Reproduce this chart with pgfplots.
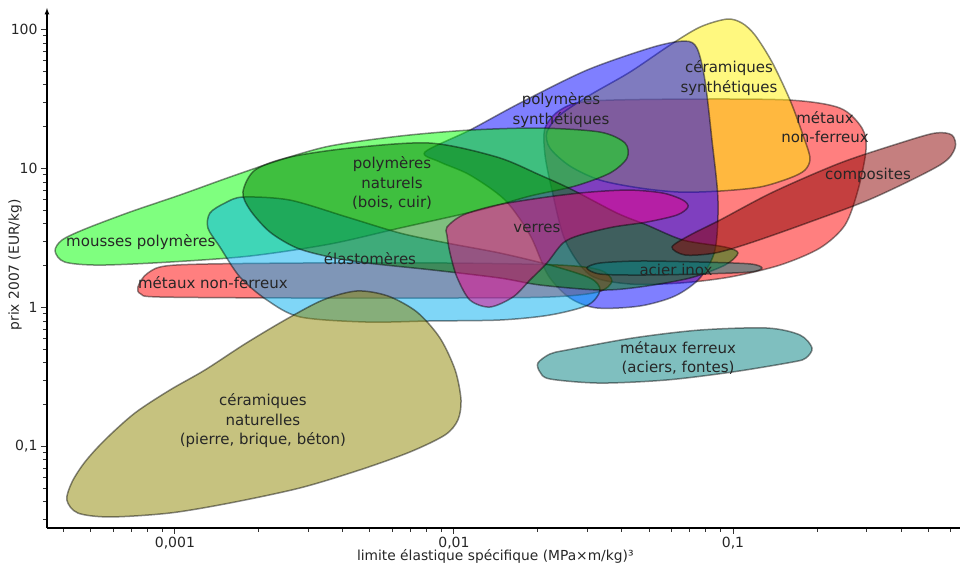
\documentclass[border=0pt]{standalone}
\usepackage{pgfplots}
\pgfplotsset{compat=1.18}
\usepackage{fontspec}
\setmainfont{DejaVu Sans}
\definecolor{pngreen}{RGB}{0,128,0}
\definecolor{cdarkred}{RGB}{139,0,0}
\begin{document}
\begin{tikzpicture}[font=\fontsize{14bp}{17bp}\selectfont]
\useasboundingbox (-47bp,-43bp) rectangle (916bp,528bp);
\begin{axis}[
  scale only axis, width=913bp, height=520bp,
  xmode=log, ymode=log,
  xmin=3.48e-4, xmax=0.651, ymin=0.0259, ymax=143,
  axis x line=bottom, axis y line=left,
  x axis line style={-}, y axis line style={-latex},
  axis line style={line width=1.2bp, black},
  xtick={0.001,0.01,0.1}, xticklabels={{0,001},{0,01},{0,1}},
  ytick={0.1,1,10,100}, yticklabels={{0,1},1,10,100},
  minor xtick={4e-4,5e-4,6e-4,7e-4,8e-4,9e-4,0.002,0.003,0.004,0.005,0.006,0.007,0.008,0.009,0.02,0.03,0.04,0.05,0.06,0.07,0.08,0.09,0.2,0.3,0.4,0.5,0.6},
  minor ytick={0.03,0.04,0.05,0.06,0.07,0.08,0.09,0.2,0.3,0.4,0.5,0.6,0.7,0.8,0.9,2,3,4,5,6,7,8,9,20,30,40,50,60,70,80,90},
  tick align=outside, major tick length=6bp, minor tick length=4bp,
  tick style={black!80, line width=0.9bp},
  tick label style={font=\fontsize{14bp}{17bp}\selectfont, text=black!85},
  xlabel={limite élastique spécifique (MPa×m/kg)³},
  ylabel={prix 2007 (EUR/kg)},
  xlabel style={at={(axis description cs:0.491,-0.054)}, anchor=center, font=\fontsize{13.8bp}{16bp}\selectfont, text=black!85},
  ylabel style={at={(axis description cs:-0.035,0.506)}, anchor=center, font=\fontsize{13.8bp}{16bp}\selectfont, text=black!85},
  clip=false,
  blob/.style={smooth cycle, mark=none, fill opacity=0.5, draw=black, draw opacity=0.45, line width=1.5bp},
]
% metaux non-ferreux (right)
\addplot[blob, fill=red] coordinates {
(0.0212,19.56) (0.02399,26.36) (0.03073,30.59) (0.07015,31.62) (0.1601,31.10) (0.2418,27.25) (0.2900,19.56) (0.2997,13.59) (0.2805,7.00) (0.2520,3.92) (0.2050,2.68) (0.1474,2.02) (0.0975,1.657) (0.06457,1.50) (0.04273,1.476) (0.03073,1.713) (0.02500,3.06) (0.02245,7.00) (0.0212,12.51)};
% ceramiques synthetiques
\addplot[blob, fill=yellow] coordinates {
(0.09517,119.0) (0.1077,111.4) (0.1199,91.3) (0.1380,58.4) (0.1601,31.10) (0.1782,17.42) (0.1888,11.90) (0.1811,9.75) (0.1601,8.55) (0.1250,7.36) (0.08984,6.89) (0.06457,6.77) (0.04642,7.24) (0.03337,8.26) (0.02605,10.42) (0.02208,14.04) (0.02154,18.31) (0.02399,24.26) (0.03073,33.80) (0.04273,49.45) (0.05946,77.35) (0.07614,104.2)};
% polymeres synthetiques
\addplot[blob, fill=blue] coordinates {
(0.00787,13.14) (0.01141,18.92) (0.01724,29.59) (0.02997,51.12) (0.05168,74.83) (0.06730,82.66) (0.07430,73.6) (0.07934,43.3) (0.08408,16.03) (0.08836,5.93) (0.08620,2.59) (0.07614,1.630) (0.06196,1.21) (0.04642,1.025) (0.03255,0.992) (0.02605,1.17) (0.02172,1.713) (0.01873,3.32) (0.01524,5.93) (0.01141,8.98) (0.00891,11.14)};
% metaux non-ferreux (left)
\addplot[blob, fill=red] coordinates {
(7.37e-4,1.405) (8.00e-4,1.771) (1.0e-3,2.02) (2.81e-3,2.09) (9.68e-3,2.09) (0.02399,2.02) (0.03337,1.861) (0.03684,1.551) (0.03282,1.293) (0.02208,1.19) (9.68e-3,1.17) (2.81e-3,1.17) (8.84e-4,1.19) (7.55e-4,1.251)};
% mousses polymeres
\addplot[blob, fill=green] coordinates {
(3.72e-4,2.55) (3.94e-4,3.06) (4.76e-4,3.67) (6.90e-4,4.864) (1.042e-3,6.45) (1.575e-3,8.69) (2.378e-3,11.51) (3.59e-3,14.52) (6.40e-3,17.13) (0.01141,18.92) (0.02033,19.56) (0.03337,18.31) (0.04103,15.26) (0.04171,11.90) (0.03624,9.28) (0.02715,7.48) (0.01873,6.34) (0.01240,5.03) (6.40e-3,3.73) (3.59e-3,2.86) (1.86e-3,2.347) (9.60e-4,2.125) (5.38e-4,2.02) (4.03e-4,2.125)};
% elastomeres
\addplot[blob, fill=cyan] coordinates {
(1.335e-3,4.785) (1.51e-3,5.645) (1.753e-3,6.237) (2.584e-3,5.93) (4.135e-3,4.478) (6.40e-3,3.436) (9.44e-3,2.911) (0.01462,2.466) (0.02208,2.02) (0.03073,1.630) (0.03337,1.336) (0.03022,1.042) (0.02208,0.883) (0.01462,0.813) (8.20e-3,0.800) (4.88e-3,0.786) (2.81e-3,0.855) (2.137e-3,1.132) (1.71e-3,1.657) (1.45e-3,2.725) (1.313e-3,3.73)};
% ceramiques naturelles
\addplot[blob, fill=olive] coordinates {
(4.10e-4,0.0412) (4.28e-4,0.0556) (4.76e-4,0.0774) (5.61e-4,0.1114) (7.19e-4,0.1742) (9.60e-4,0.255) (1.281e-3,0.355) (1.78e-3,0.546) (2.48e-3,0.813) (3.39e-3,1.132) (4.49e-3,1.315) (5.80e-3,1.21) (7.37e-3,0.928) (8.91e-3,0.6035) (0.0101,0.355) (0.0106,0.216) (0.01033,0.1551) (9.29e-3,0.121) (6.96e-3,0.0913) (4.60e-3,0.0678) (2.81e-3,0.0503) (1.575e-3,0.0392) (9.60e-4,0.0332) (5.85e-4,0.0311) (4.49e-4,0.0332)};
% polymeres naturels
\addplot[blob, fill=pngreen] coordinates {
(1.753e-3,6.77) (1.935e-3,9.75) (2.584e-3,12.10) (4.24e-3,14.04) (8.20e-3,15.26) (0.01426,12.10) (0.02033,8.98) (0.02670,7.00) (0.03839,4.785) (0.04918,3.92) (0.06619,3.06) (0.09361,2.725) (0.1042,2.466) (0.09361,2.02) (0.07015,1.630) (0.04642,1.405) (0.03337,1.336) (0.02033,1.452) (0.01462,1.630) (8.41e-3,1.861) (4.88e-3,2.09) (3.59e-3,2.31) (2.736e-3,2.68) (2.19e-3,3.493) (1.86e-3,5.03)};
% verres
\addplot[blob, fill=magenta] coordinates {
(9.44e-3,3.794) (0.01077,4.63) (0.01426,5.46) (0.02154,6.237) (0.03073,6.77) (0.04273,7.00) (0.05612,6.66) (0.06619,5.93) (0.06898,5.285) (0.06300,4.63) (0.04918,4.122) (0.03715,3.794) (0.02829,3.32) (0.02459,2.911) (0.02154,2.09) (0.01873,1.577) (0.01628,1.19) (0.01346,1.008) (0.01141,1.132) (0.01025,1.657) (9.68e-3,2.466) (9.44e-3,3.32)};
% composites
\addplot[blob, fill=cdarkred] coordinates {
(0.06045,2.725) (0.07015,3.32) (0.08984,4.26) (0.1391,6.77) (0.2418,10.95) (0.3968,15.26) (0.5297,18.0) (0.6093,17.42) (0.6248,14.04) (0.5520,10.60) (0.3177,6.135) (0.1842,4.055) (0.1151,2.911) (0.08620,2.466) (0.06730,2.387)};
% acier inox
\addplot[blob, fill=teal] coordinates {
(0.02997,1.924) (0.03337,2.09) (0.04642,2.161) (0.07614,2.125) (0.1151,2.06) (0.1270,1.924) (0.1151,1.800) (0.07614,1.742) (0.04642,1.713) (0.03337,1.742)};
% metaux ferreux
\addplot[blob, fill=teal] coordinates {
(0.02000,0.399) (0.02208,0.463) (0.02541,0.4946) (0.04381,0.6035) (0.07614,0.6887) (0.1324,0.712) (0.1739,0.634) (0.1920,0.511) (0.1826,0.433) (0.1641,0.4055) (0.1,0.344) (0.0580,0.301) (0.03337,0.286) (0.02208,0.306) (0.02033,0.344)};
% labels
\begin{scope}[every node/.style={align=center, text=black!85, font=\fontsize{15bp}{19.5bp}\selectfont}]
\node at (axis cs:7.55e-4,2.96) {mousses polymères};
\node at (axis cs:1.368e-3,1.50) {métaux non-ferreux};
\node at (axis cs:5.0e-3,2.234) {élastomères};
\node at (axis cs:6.0e-3,7.87) {polymères\\naturels\\(bois, cuir)};
\node at (axis cs:0.02419,26.36) {polymères\\synthétiques};
\node at (axis cs:0.01984,3.73) {verres};
\node at (axis cs:0.09675,44.8) {céramiques\\synthétiques};
\node at (axis cs:0.2137,19.89) {métaux\\non-ferreux};
\node at (axis cs:0.3047,8.98) {composites};
\node at (axis cs:0.0625,1.861) {acier inox};
\node at (axis cs:0.06354,0.433) {métaux ferreux\\(aciers, fontes)};
\node at (axis cs:2.067e-3,0.1526) {céramiques\\naturelles\\(pierre, brique, béton)};
\end{scope}
\end{axis}
\end{tikzpicture}
\end{document}
